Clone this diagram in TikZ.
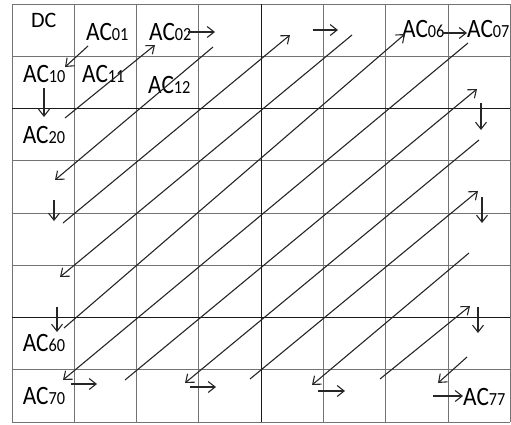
\documentclass[tikz,border=0pt]{standalone}
\usepackage{fontspec}
\usepackage{tikz}
\usetikzlibrary{arrows.meta}
\newfontfamily\cellfont[FakeStretch=0.88]{Carlito}
\newfontfamily\dcfont{Carlito}
\newcommand{\coef}[1]{{\cellfont\fontsize{26.5pt}{26.5pt}\selectfont AC\fontsize{18.5pt}{18.5pt}\selectfont #1}}

\tikzset{
  cell/.style={draw=black!55, line width=1pt},
  thickcell/.style={draw=black!90, line width=1pt},
  lbl/.style={inner sep=0pt, anchor=base west},
  scan/.style={-{Straight Barb[length=7pt, width=11pt, line width=1.1pt]}, line width=1.1pt, black!85},
}

\begin{document}
\begin{tikzpicture}[x=1pt, y=-1pt]
\useasboundingbox (0,0) rectangle (511,424);
% grid
\foreach \i in {0,...,8} {
  \draw[cell] (12+62.3*\i,4) -- (12+62.3*\i,422);
  \draw[cell] (12,4+52.25*\i) -- (510.4,4+52.25*\i);
}
\draw[thickcell] (12+62.3*4,4) -- (12+62.3*4,422);
\draw[thickcell] (12,4+52.25*2) -- (510.4,4+52.25*2);
\draw[thickcell] (12,4+52.25*6) -- (510.4,4+52.25*6);

% labels
\node[lbl] (dc) at (31,27) {\dcfont\fontsize{22pt}{22pt}\selectfont DC};
\node[lbl] (ac01) at (86,40) {\coef{01}};
\node[lbl] (ac02) at (149,40) {\coef{02}};
\node[lbl] (ac06) at (402,37.7) {\coef{06}};
\node[lbl] (ac07) at (467,37.7) {\coef{07}};
\node[lbl] (ac10) at (23,82.3) {\coef{10}};
\node[lbl] (ac11) at (82,82.3) {\coef{11}};
\node[lbl] (ac12) at (148,93.3) {\coef{12}};
\node[lbl] (ac20) at (22.7,143.3) {\coef{20}};
\node[lbl] (ac60) at (22.7,351.7) {\coef{60}};
\node[lbl] (ac70) at (22.7,404) {\coef{70}};
\node[lbl] (ac77) at (463,405) {\coef{77}};

% scan path, end points
\coordinate (p1a) at (88,46);    \coordinate (p1b) at (65,67);
\coordinate (p2a) at (44,88);    \coordinate (p2b) at (44,117);
\coordinate (p3a) at (65,118);   \coordinate (p3b) at (155,45);
\coordinate (p4a) at (188,32);   \coordinate (p4b) at (215,32);
\coordinate (p5a) at (213,47);   \coordinate (p5b) at (55,180);
\coordinate (p6a) at (54,200);   \coordinate (p6b) at (54,221);
\coordinate (p7a) at (63,223);   \coordinate (p7b) at (290,35);
\coordinate (p8a) at (313,30);   \coordinate (p8b) at (338,30);
\coordinate (p9a) at (352,35);   \coordinate (p9b) at (60,277);
\coordinate (p10a) at (57,307);  \coordinate (p10b) at (57,332);
\coordinate (p11a) at (64,328);  \coordinate (p11b) at (405,34);
\coordinate (p12a) at (443,33);  \coordinate (p12b) at (467,33);
\coordinate (p13a) at (468,43);  \coordinate (p13b) at (63,380);
\coordinate (p14a) at (71,384);  \coordinate (p14b) at (97,384);
\coordinate (p15a) at (125,380); \coordinate (p15b) at (477,89);
\coordinate (p16a) at (481,103); \coordinate (p16b) at (481,130);
\coordinate (p17a) at (479,140); \coordinate (p17b) at (185,383);
\coordinate (p18a) at (190,387); \coordinate (p18b) at (216,387);
\coordinate (p19a) at (250,379); \coordinate (p19b) at (478,191);
\coordinate (p20a) at (482,197); \coordinate (p20b) at (482,223);
\coordinate (p21a) at (469,253); \coordinate (p21b) at (312,385);
\coordinate (p22a) at (318,391); \coordinate (p22b) at (345,391);
\coordinate (p23a) at (380,379); \coordinate (p23b) at (470,306);
\coordinate (p24a) at (478,307); \coordinate (p24b) at (478,333);
\coordinate (p25a) at (467,357); \coordinate (p25b) at (438,383);
\coordinate (p26a) at (433,396); \coordinate (p26b) at (463,396);

% scan path
\foreach \k in {1,...,26}
  \draw[scan] (p\k a) -- (p\k b);
\end{tikzpicture}
\end{document}
